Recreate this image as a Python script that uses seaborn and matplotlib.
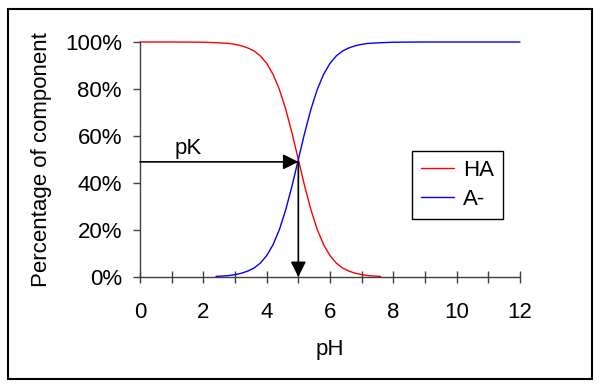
import matplotlib
matplotlib.use("Agg")
import matplotlib.pyplot as plt
import seaborn as sns
from matplotlib.patches import Rectangle
from matplotlib.ticker import MultipleLocator, FuncFormatter

# values (percent)
ph_ha = [0, 1, 2, 2.4, 2.8, 3.0, 3.2, 3.4, 3.6, 3.8, 4.0, 4.2, 4.4, 4.6, 4.8,
         5.0, 5.2, 5.4, 5.6, 5.8, 6.0, 6.2, 6.4, 6.6, 6.8, 7.0, 7.2, 7.4, 7.6]
ha = [100, 100, 99.9, 99.7, 99.4, 99.0, 98.4, 97.5, 96.2, 94.1, 90.9, 86.3, 79.9, 71.5, 61.3,
      50.0, 38.7, 28.5, 20.1, 13.7, 9.1, 5.9, 3.8, 2.5, 1.6, 1.0, 0.6, 0.4, 0.25]

ph_a = [2.4, 2.6, 2.8, 3.0, 3.2, 3.4, 3.6, 3.8, 4.0, 4.2, 4.4, 4.6, 4.8,
        5.0, 5.2, 5.4, 5.6, 5.8, 6.0, 6.2, 6.4, 6.6, 6.8, 7.0, 7.2, 7.6, 8, 9, 10, 11, 12]
a_minus = [0.25, 0.4, 0.6, 1.0, 1.6, 2.5, 3.8, 5.9, 9.1, 13.7, 20.1, 28.5, 38.7,
           50.0, 61.3, 71.5, 79.9, 86.3, 90.9, 94.1, 96.2, 97.5, 98.4, 99.0, 99.4, 99.7, 99.9, 100, 100, 100, 100]

pk_ph = 5
pk_level = 49

sns.set_style("ticks")
plt.rcParams['font.family'] = ['Liberation Sans', 'DejaVu Sans']
plt.rcParams['font.size'] = 16
plt.rcParams['text.color'] = 'black'
plt.rcParams['axes.labelcolor'] = 'black'
plt.rcParams['xtick.labelcolor'] = 'black'
plt.rcParams['ytick.labelcolor'] = 'black'

fig = plt.figure(figsize=(6.01, 3.88), dpi=100)
ax = fig.add_axes([140/601, 1 - 277/388, 380/601, 235/388])

sns.lineplot(x=ph_ha, y=ha, color='red', lw=1, label='HA', ax=ax, clip_on=False)
sns.lineplot(x=ph_a, y=a_minus, color='blue', lw=1, label='A-', ax=ax, clip_on=False)

# pK arrows
arrow = dict(arrowstyle='-|>', color='black', lw=1.2, mutation_scale=23, shrinkA=0, shrinkB=0)
ax.annotate('', xy=(pk_ph, pk_level), xytext=(0, pk_level), arrowprops=arrow)
ax.annotate('', xy=(pk_ph, 0), xytext=(pk_ph, pk_level), arrowprops=arrow)
ax.text(1.1, 52.5, 'pK', fontsize=16)

ax.set_xlim(0, 12)
ax.set_ylim(0, 100)
ax.xaxis.set_major_locator(MultipleLocator(2))
ax.xaxis.set_minor_locator(MultipleLocator(1))
ax.yaxis.set_major_locator(MultipleLocator(20))
ax.yaxis.set_major_formatter(FuncFormatter(lambda v, p: f"{v:.0f}%"))

ax.tick_params(axis='x', which='both', direction='inout', length=8.5, width=1, color='#404040', pad=14)
ax.tick_params(axis='y', direction='out', length=5, width=1, color='#404040', pad=8)
sns.despine(ax=ax)
for s in ['left', 'bottom']:
    ax.spines[s].set_color('#404040')
    ax.spines[s].set_linewidth(1)

ax.set_xlabel('pH')
ax.set_ylabel('Percentage of component')
ax.xaxis.set_label_coords(0.5, -0.265)
ax.yaxis.set_label_coords(-0.232, 0.5)

leg = ax.legend(loc='upper left', bbox_to_anchor=(0.715, 0.536), borderaxespad=0, fancybox=False,
                edgecolor='black', framealpha=1, handlelength=1.5, borderpad=0.4,
                handletextpad=0.4, labelspacing=0.35, fontsize=16)
leg.get_frame().set_linewidth(1)

fig.patches.append(Rectangle((8/601, 9/388), 583.5/601, 370/388, transform=fig.transFigure,
                             fill=False, edgecolor='black', lw=1.5))

fig.savefig('out.png', dpi=100)
